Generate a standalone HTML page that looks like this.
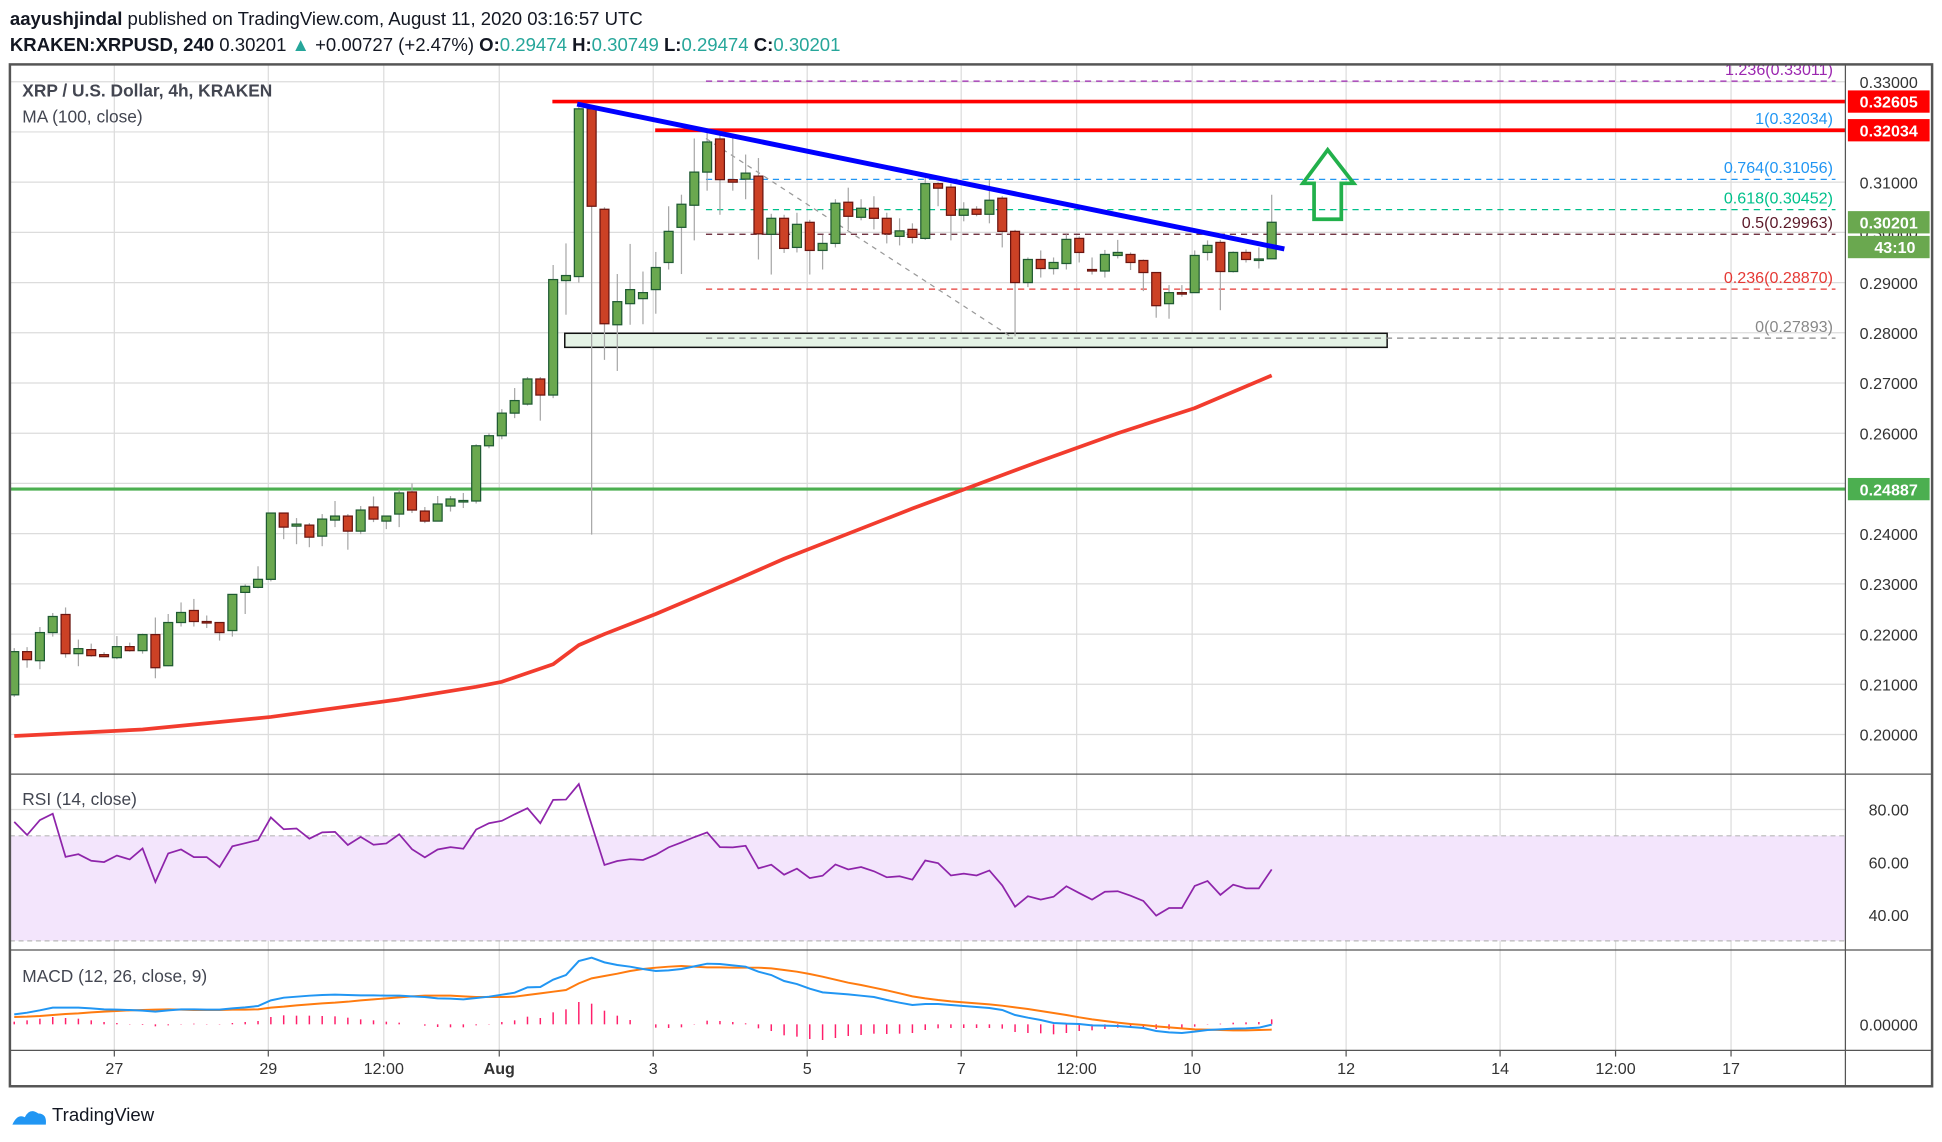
<!DOCTYPE html>
<html><head><meta charset="utf-8">
<style>
html,body{margin:0;padding:0;background:#fff;}
svg{display:block;font-family:"Liberation Sans",sans-serif;}
</style></head>
<body>
<svg id="chart" xmlns="http://www.w3.org/2000/svg" width="1942" height="1142" viewBox="0 0 1568 922" preserveAspectRatio="none">
  <rect x="0" y="0" width="1568" height="922" fill="#ffffff"/>
  <g id="header" font-size="15" fill="#131722">
    <text x="8" y="20"><tspan font-weight="bold">aayushjindal</tspan> published on TradingView.com, August 11, 2020 03:16:57 UTC</text>
    <text x="8" y="41"><tspan font-weight="bold">KRAKEN:XRPUSD, 240</tspan>  0.30201 <tspan fill="#26a69a">▲</tspan> +0.00727 (+2.47%) <tspan font-weight="bold">O:</tspan><tspan fill="#26a69a">0.29474</tspan> <tspan font-weight="bold">H:</tspan><tspan fill="#26a69a">0.30749</tspan> <tspan font-weight="bold">L:</tspan><tspan fill="#26a69a">0.29474</tspan> <tspan font-weight="bold">C:</tspan><tspan fill="#26a69a">0.30201</tspan></text>
  </g>
  <g id="grid"></g>
  <g id="rsiBand"></g>
  <g id="overlays"></g>
  <g id="candles"></g>
  <g id="ma"></g>
  <g id="trend"></g>
  <g id="rsi"></g>
  <g id="macd"></g>
  <g id="frame"></g>
  <g id="axes"></g>
  <g fill="#434651" font-size="14">
    <text x="18" y="78" font-weight="bold">XRP / U.S. Dollar, 4h, KRAKEN</text>
    <text x="18" y="99">MA (100, close)</text>
    <text x="18" y="650">RSI (14, close)</text>
    <text x="18" y="793">MACD (12, 26, close, 9)</text>
  </g>
  <g>
    <path d="M10 908 q4-9 10-6 q4-8 11-3 q7 0 6 9 z" fill="#2196f3"/>
    <text x="42" y="905" font-size="15" fill="#131722">TradingView</text>
  </g>
</svg>
<script>
// ---- data ----
const opens  = [.2079,.2165,.2147,.2203,.2239,.2161,.2169,.2159,.2153,.2175,.2167,.2199,.2137,.2223,.2247,.2225,.2223,.2207,.2283,.2293,.2309,.2441,.2415,.2417,.2395,.2427,.2435,.2405,.2453,.2425,.2439,.2483,.2445,.2425,.2455,.2465,.2465,.2575,.2595,.2640,.2658,.2708,.2676,.2904,.2912,.3246,.3046,.2816,.2858,.2868,.2886,.2940,.3010,.3054,.3120,.3186,.3105,.3106,.3112,.2996,.3028,.2970,.3020,.2964,.2978,.3060,.3030,.3048,.3028,.2992,.3006,.2988,.3097,.3090,.3034,.3046,.3036,.3068,.3002,.2900,.2946,.2928,.2938,.2988,.2926,.2923,.2954,.2956,.2944,.2920,.2858,.2880,.2880,.2960,.2980,.2922,.2960,.2946,.29474];
const closes = [.2165,.2149,.2203,.2235,.2161,.2171,.2157,.2155,.2175,.2167,.2199,.2133,.2223,.2243,.2225,.2223,.2203,.2279,.2295,.2309,.2441,.2413,.2419,.2393,.2429,.2435,.2405,.2447,.2429,.2435,.2481,.2447,.2425,.2459,.2469,.2466,.2575,.2595,.2640,.2665,.2708,.2676,.2906,.2914,.3246,.3052,.2818,.2862,.2886,.2880,.2930,.3002,.3056,.3120,.3180,.3105,.3100,.3118,.2997,.3028,.2968,.3016,.2964,.2978,.3058,.3032,.3048,.3028,.2997,.3003,.2990,.3097,.3088,.3034,.3046,.3036,.3064,.3002,.2900,.2946,.2928,.2940,.2986,.2960,.2924,.2956,.2960,.2940,.2920,.2854,.2880,.2879,.2954,.2974,.2922,.2960,.2946,.2947,.30201];
const highs  = [.2172,.2174,.2214,.2242,.2253,.2189,.2181,.2164,.2196,.2183,.2201,.2233,.2240,.2263,.2270,.2237,.2223,.2279,.2299,.2335,.2441,.2441,.2431,.2421,.2439,.2465,.2439,.2455,.2474,.2435,.2488,.2500,.2453,.2475,.2475,.2481,.2578,.2600,.2648,.2690,.2712,.2712,.2935,.2978,.3250,.3246,.3050,.2917,.2977,.2922,.2961,.3052,.3075,.3187,.3200,.3200,.3197,.3155,.3148,.3037,.3035,.3039,.3025,.2995,.3066,.3089,.3066,.3072,.3039,.3028,.3018,.3108,.3100,.3097,.3060,.3052,.3104,.3072,.3005,.2950,.2964,.2950,.2996,.2992,.2950,.2965,.2985,.2960,.2946,.2920,.2895,.2895,.2964,.2984,.2985,.2962,.2966,.2970,.30749];
const lows   = [.2075,.2133,.2130,.2195,.2153,.2136,.2155,.2154,.2150,.2165,.2161,.2112,.2136,.2215,.2215,.2212,.2187,.2195,.2240,.2291,.2305,.2389,.2379,.2373,.2375,.2413,.2368,.2399,.2423,.2409,.2413,.2441,.2421,.2425,.2444,.2451,.2460,.2570,.2588,.2630,.2655,.2625,.2670,.2836,.2900,.2398,.2746,.2724,.2816,.2817,.2838,.2926,.2917,.2984,.3083,.3035,.3083,.3066,.2946,.2916,.2959,.2960,.2916,.2926,.2970,.3005,.3024,.3006,.2978,.2974,.2978,.2985,.3052,.2984,.3022,.3032,.3018,.2970,.2793,.2891,.2910,.2916,.2926,.2940,.2916,.2910,.2948,.2925,.2883,.2830,.2828,.2872,.2880,.2944,.2845,.2920,.2940,.2928,.29474];
const maIndex = [0,10,20,30,36,38,42,44,46,50,56,60,70,74,80,86,92,98];
const maValues = [.1997,.2010,.2035,.2070,.2095,.2105,.2140,.2178,.2200,.2240,.2305,.2350,.2450,.2488,.2545,.2600,.2650,.2715];
const rsiValues = [75.3,70.3,76,78.4,62,63,60.5,60,62.5,61,65.2,52.4,63.3,64.8,61.9,61.9,58.1,66,67.2,68.4,77,72.5,72.8,68.9,71.3,71.5,66.5,69.6,66.6,67.1,70.6,64.9,61.8,64.8,65.7,65.1,72.4,74.8,75.7,78.2,80.5,74.8,83.7,83.8,89.7,74.2,58.9,60.4,61.1,60.8,62.8,65.6,67.5,69.5,71.3,65.7,65.6,66.2,57.6,59,55.2,57.5,53.9,54.8,59.1,57.2,58.1,56.5,54.2,54.6,53.3,60.6,59.6,54.9,55.6,54.9,56.8,51.1,43,47,45.7,46.8,50.8,48.2,45.7,48.7,48.9,47.2,45.2,39.6,42.5,42.5,50.9,52.8,47.5,51.4,50,50,57.2];
const macdValues = [.30,.35,.42,.50,.50,.50,.48,.45,.44,.43,.41,.38,.42,.45,.45,.44,.44,.48,.51,.55,.72,.80,.83,.86,.88,.89,.88,.87,.87,.86,.86,.84,.82,.78,.77,.75,.79,.83,.89,.95,1.11,1.12,1.34,1.48,1.90,2.00,1.86,1.78,1.73,1.66,1.60,1.62,1.66,1.74,1.82,1.81,1.77,1.73,1.58,1.48,1.30,1.21,1.07,.96,.93,.90,.86,.82,.73,.65,.58,.61,.61,.58,.55,.52,.49,.43,.28,.20,.13,.04,.02,.01,-.03,-.04,-.05,-.08,-.11,-.20,-.24,-.26,-.22,-.17,-.15,-.13,-.12,-.10,-.01];
const signalValues = [.22,.23,.25,.28,.31,.33,.36,.38,.40,.42,.43,.44,.45,.44,.43,.43,.43,.44,.44,.45,.50,.53,.57,.60,.63,.65,.68,.72,.75,.78,.81,.84,.86,.86,.86,.84,.82,.82,.82,.83,.88,.93,.98,1.03,1.23,1.38,1.45,1.52,1.60,1.66,1.70,1.73,1.75,1.73,1.71,1.71,1.70,1.70,1.70,1.68,1.63,1.58,1.51,1.43,1.34,1.25,1.18,1.10,1.02,.93,.84,.78,.73,.69,.66,.63,.60,.56,.51,.46,.40,.34,.28,.21,.15,.10,.05,.01,-.02,-.06,-.09,-.12,-.15,-.16,-.17,-.18,-.18,-.17,-.16];
const priceTicks = [0.33,0.32,0.31,0.30,0.29,0.28,0.27,0.26,0.25,0.24,0.23,0.22,0.21,0.20];
const priceTickLabels = ["0.33000","0.32000","0.31000","0.30000","0.29000","0.28000","0.27000","0.26000","0.25000","0.24000","0.23000","0.22000","0.21000","0.20000"];
const timeTickIndex = [7.8,19.8,28.8,37.8,49.8,61.8,73.8,82.8,91.8,103.8,115.8,124.8,133.8];
const timeTickLabels = ["27","29","12:00","Aug","3","5","7","12:00","10","12","14","12:00","17"];
const rsiTicks = [80,60,40];
const fibLevels = [1.236,1,0.764,0.618,0.5,0.236,0];
const fibPrices = [0.33011,0.32034,0.31056,0.30452,0.29963,0.28870,0.27893];
const fibColors = ["#9c27b0","#2196f3","#2196f3","#00c08b","#5d1a2a","#e53935","#888888"];

// ---- axes ----
const NS = "http://www.w3.org/2000/svg";
const PL = 8, PR = 1490;
function xOf(i){ return 11.5 + 10.36*i; }
function yP(p){ return 593 - (p-0.20)*4054; }
function yR(r){ return 696 - (r-60)*2.12; }
function yM(v){ return 827 - v*26.9; }
function mk(parent, tag, attrs){
  const el = document.createElementNS(NS, tag);
  for (const k in attrs) el.setAttribute(k, attrs[k]);
  document.getElementById(parent).appendChild(el);
  return el;
}

// grid
priceTicks.forEach(p=>{
  const l = mk("grid","line",{x1:PL,x2:PR,y1:yP(p),y2:yP(p),stroke:"#dcdcdc","stroke-width":1});
  
  
});
rsiTicks.forEach(r=>{
  const l = mk("grid","line",{x1:PL,x2:PR,y1:yR(r),y2:yR(r),stroke:"#dcdcdc","stroke-width":1});
  
  
});
timeTickIndex.forEach(t=>{
  const l = mk("grid","line",{x1:xOf(t),x2:xOf(t),y1:52,y2:848,stroke:"#dcdcdc","stroke-width":1});
  
  
});

// rsi band
const band = mk("rsiBand","rect",{x:PL,y:yR(70),width:PR-PL,height:yR(30)-yR(70),fill:"#f3e5fc"});


[70,30].forEach(r=>{
  const l = mk("rsiBand","line",{x1:PL,x2:PR,y1:yR(r),y2:yR(r),stroke:"#b9b9b9","stroke-dasharray":"4 3"});
  
  
});

// overlays
const box = mk("overlays","rect",{x:456,y:yP(0.2799),width:664,height:yP(0.2771)-yP(0.2799),fill:"#e5f3e6",stroke:"#111","stroke-width":1.2});


const fibStart = 570, fibEnd = 1482;
fibPrices.forEach((p,k)=>{
  const l = mk("overlays","line",{x1:fibStart,x2:fibEnd,y1:yP(p),y2:yP(p),stroke:fibColors[k],"stroke-width":1,"stroke-dasharray":"5 4"});
  
  
  const t = mk("overlays","text",{x:fibEnd-2,y:yP(p)-5,"text-anchor":"end","font-size":13,fill:fibColors[k]});
  t.textContent = fibLevels[k]+"("+p.toFixed(5)+")";
  
  
});
const dg = mk("overlays","line",{x1:570,y1:yP(0.3187),x2:818,y2:yP(0.27893),stroke:"#999","stroke-width":1,"stroke-dasharray":"4 4"});


const r1 = mk("overlays","line",{x1:446,x2:PR,y1:yP(0.32605),y2:yP(0.32605),stroke:"#ff0000","stroke-width":3});


const r2 = mk("overlays","line",{x1:529,x2:PR,y1:yP(0.32034),y2:yP(0.32034),stroke:"#ff0000","stroke-width":3});


const s1 = mk("overlays","line",{x1:PL,x2:PR,y1:yP(0.24887),y2:yP(0.24887),stroke:"#4caf50","stroke-width":2.5});



// candles
for (let i=0;i<opens.length;i++){
  const up = closes[i] >= opens[i];
  const x = xOf(i);
  const w = mk("candles","line",{x1:x,x2:x,y1:yP(highs[i]),y2:yP(lows[i]),stroke:"#a8a8a8","stroke-width":1});
  
  
  const top = yP(Math.max(opens[i],closes[i]));
  const h = Math.max(1.2, yP(Math.min(opens[i],closes[i])) - top);
  const b = mk("candles","rect",{x:x-3.6,y:top,width:7.2,height:h,fill:up?"#6aa84f":"#cc4125",stroke:up?"#1f5a32":"#6b1510","stroke-width":1});
  
  
}

// MA
const maPath = mk("ma","polyline",{points:maIndex.map((t,k)=>xOf(t)+","+yP(maValues[k])).join(" "),fill:"none",stroke:"#f23c2e","stroke-width":3,"stroke-linejoin":"round"});



// trendline + arrow
const tl = mk("trend","line",{x1:466,y1:84,x2:1037,y2:201,stroke:"#0000ff","stroke-width":4});


const ar = mk("trend","polygon",{points:"1072,121 1093,148 1083,148 1083,177 1061,177 1061,148 1052,148",fill:"none",stroke:"#22b04b","stroke-width":3});



// RSI
const rl = mk("rsi","polyline",{points:rsiValues.map((v,i)=>xOf(i)+","+yR(v)).join(" "),fill:"none",stroke:"#8e24aa","stroke-width":1.4});



// MACD
for (let i=0;i<macdValues.length;i++){
  const h = macdValues[i]-signalValues[i];
  const hb = mk("macd","line",{x1:xOf(i),x2:xOf(i),y1:yM(0),y2:yM(h),stroke:"#ff1f6b","stroke-width":1.2});
  
  
}
const sl = mk("macd","polyline",{points:signalValues.map((v,i)=>xOf(i)+","+yM(v)).join(" "),fill:"none",stroke:"#ff7b0f","stroke-width":1.6});


const ml = mk("macd","polyline",{points:macdValues.map((v,i)=>xOf(i)+","+yM(v)).join(" "),fill:"none",stroke:"#2196f3","stroke-width":1.6});



// frame
[["rect",{x:8,y:52,width:1552,height:825,fill:"none",stroke:"#555","stroke-width":2}],
 ["line",{x1:PR,x2:PR,y1:52,y2:877,stroke:"#555","stroke-width":1}],
 ["line",{x1:8,x2:1560,y1:625,y2:625,stroke:"#555","stroke-width":1}],
 ["line",{x1:8,x2:1560,y1:767,y2:767,stroke:"#555","stroke-width":1}],
 ["line",{x1:8,x2:1560,y1:848,y2:848,stroke:"#555","stroke-width":1}]].forEach(d=>{
  const e = mk("frame",d[0],d[1]);
  
  
});

// axes labels
priceTicks.forEach((p,k)=>{
  const t = mk("axes","text",{x:1525,y:yP(p)+5,"text-anchor":"middle","font-size":13,fill:"#333"});
  t.textContent = priceTickLabels[k];
  
  
});
rsiTicks.forEach(r=>{
  const t = mk("axes","text",{x:1525,y:yR(r)+5,"text-anchor":"middle","font-size":13,fill:"#333"});
  t.textContent = r.toFixed(2);
  
  
});
const mz = mk("axes","text",{x:1525,y:yM(0)+5,"text-anchor":"middle","font-size":13,fill:"#333"});
mz.textContent = "0.00000";


timeTickIndex.forEach((t,k)=>{
  const tk = mk("axes","line",{x1:xOf(t),x2:xOf(t),y1:848,y2:853,stroke:"#555"});
  
  
  const tx = mk("axes","text",{x:xOf(t),y:867,"text-anchor":"middle","font-size":13,fill:"#333","font-weight":timeTickLabels[k]==="Aug"?"bold":"normal"});
  tx.textContent = timeTickLabels[k];
  
  
});
[[0.32605,"0.32605","#ff0000"],[0.32034,"0.32034","#ff0000"],[0.24887,"0.24887","#4caf50"],[0.30201,"0.30201","#6aa84f"]].forEach(d=>{
  const y = yP(d[0]);
  const r = mk("axes","rect",{x:1492,y:y-9,width:66,height:18,fill:d[2]});
  
  
  const t = mk("axes","text",{x:1525,y:y+5,"text-anchor":"middle","font-size":13,"font-weight":"bold",fill:"#fff"});
  t.textContent = d[1];
  
  
});
const cd = mk("axes","rect",{x:1492,y:yP(0.30201)+11,width:66,height:18,fill:"#6aa84f"});


const ct = mk("axes","text",{x:1530,y:yP(0.30201)+25,"text-anchor":"middle","font-size":13,"font-weight":"bold",fill:"#fff"});
ct.textContent = "43:10";


</script>
</body></html>
